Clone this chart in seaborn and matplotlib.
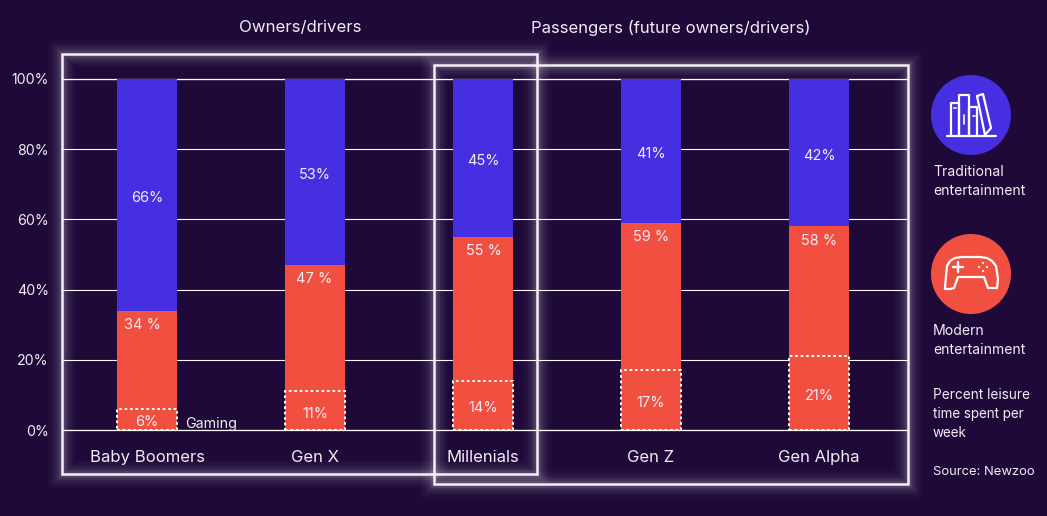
import numpy as np
import pandas as pd
import seaborn as sns
import matplotlib.pyplot as plt
from matplotlib.patches import Circle, Rectangle
from matplotlib.ticker import PercentFormatter

W, H = 1047, 516
BG = "#1e0938"
BLUE = "#452fe0"
RED = "#f15041"
TXT = "#f1ecf6"

# data
generations = ["Baby Boomers", "Gen X", "Millenials", "Gen Z", "Gen Alpha"]
traditional = [66, 53, 45, 41, 42]
modern = [34, 47, 55, 59, 58]
gaming = [6, 11, 14, 17, 21]
yticks = [0, 20, 40, 60, 80, 100]

sns.set_theme(style="white")
plt.rcParams["font.family"] = ["Inter", "DejaVu Sans"]

df = pd.DataFrame({"generation": generations, "traditional": traditional,
                   "modern": modern, "gaming": gaming})
df["total"] = df["traditional"] + df["modern"]

fig = plt.figure(figsize=(W / 100, H / 100), dpi=100, facecolor=BG)
# main axes placed by pixel: 0% at y=430, 100% at y=79, x from 62 to 908
ax = fig.add_axes([62 / W, 1 - 430 / H, (908 - 62) / W, (430 - 79) / H], facecolor=BG)

bw = 60 / 168
sns.barplot(data=df, x="generation", y="total", color=BLUE, width=bw, saturation=1, linewidth=0, ax=ax)
sns.barplot(data=df, x="generation", y="modern", color=RED, width=bw, saturation=1, linewidth=0, ax=ax)
sns.barplot(data=df, x="generation", y="gaming", fill=False, width=bw, ax=ax,
            edgecolor="white", linewidth=1.4, linestyle=(0, (1.4, 1.4)))

ax.set_xlim((62 - 147) / 168, (908 - 147) / 168)
ax.set_ylim(0, 100)
ax.set_xlabel("")
ax.set_ylabel("")
ax.set_yticks(yticks)
ax.yaxis.set_major_formatter(PercentFormatter(100, decimals=0))
ax.set_axisbelow(True)
ax.grid(axis="y", color="white", linewidth=0.8)
ax.grid(axis="x", visible=False)
sns.despine(ax=ax, left=True, bottom=True)
ax.tick_params(axis="y", length=0, pad=9.5, labelsize=10.2, labelcolor=TXT)
ax.tick_params(axis="x", length=0, pad=14.7, labelsize=12, labelcolor=TXT)
ax.axhline(0, color="white", linewidth=0.9, zorder=5, clip_on=False)
ax.axhline(100, color="white", linewidth=0.9, zorder=0.5, clip_on=False)

# value labels, the red ones sit a little off centre in the original
red_shift = [-0.03, -0.006, 0.006, 0, 0]
for i in range(len(generations)):
    m, t, g = modern[i], traditional[i], gaming[i]
    ax.text(i, m + t / 2 - 0.8, f"{t}%", ha="center", va="center", color=TXT, fontsize=10.5)
    ax.text(i + red_shift[i], m - 4.1, f"{m} %", ha="center", va="center", color=TXT, fontsize=10.5)
    ax.text(i, g / 2 - 0.8, f"{g}%", ha="center", va="center", color=TXT, fontsize=10.5)

# overlay in pixel coordinates for boxes, icons and side text
ov = fig.add_axes([0, 0, 1, 1], facecolor="none")
ov.set_xlim(0, W)
ov.set_ylim(H, 0)
ov.axis("off")


def glow_box(x0, y0, x1, y1):
    for lw, a in [(20, 0.02), (17, 0.025), (14, 0.03), (11, 0.035), (8, 0.05), (5, 0.09)]:
        ov.add_patch(Rectangle((x0, y0), x1 - x0, y1 - y0, fill=False, ec="white", lw=lw, alpha=a))
    ov.add_patch(Rectangle((x0, y0), x1 - x0, y1 - y0, fill=False, ec="#f4eff8", lw=1.8))


glow_box(62, 54, 537, 474)
glow_box(434, 65, 908, 484)


def line(xs, ys, lw=1.6):
    ov.plot(xs, ys, color="white", lw=lw, solid_capstyle="round", solid_joinstyle="round")


# books icon
ov.add_patch(Circle((971, 115), 40, color=BLUE, lw=0))
line([947, 996], [135.5, 135.5])
line([951, 951, 959, 959], [135, 103, 103, 135])
line([959, 959, 969, 969], [135, 95, 95, 135])
line([969, 969, 977, 977], [135, 107, 107, 135])
line([977, 983, 991, 985, 977], [96, 94, 128, 135, 96])
line([964, 964], [115, 124], 1.2)
line([954, 956], [108, 108], 1.2)
line([973, 975], [116, 116], 1.2)

# gamepad icon
ov.add_patch(Circle((971, 274), 40, color=RED, lw=0))
gx = [945, 947, 950, 955, 962, 971, 980, 987, 992, 996, 998, 997, 990, 988, 984, 958, 954, 950, 945, 945]
gy = [287, 266, 261, 258, 257, 257, 257, 258, 261, 266, 279, 288, 288, 288, 277, 277, 288, 289, 289, 287]
line(gx, gy)
line([953, 963], [267, 267], 1.7)
line([958, 958], [262, 272], 1.7)
for dx, dy in [(0, -4), (0, 4), (-4, 0), (4, 0)]:
    ov.add_patch(Circle((983 + dx, 267 + dy), 1.1, color="white", lw=0))

# text
ov.text(300, 27.5, "Owners/drivers", ha="center", va="center", color=TXT, fontsize=12.1)
ov.text(671, 27.5, "Passengers (future owners/drivers)", ha="center", va="center", color=TXT, fontsize=12)
ov.text(185, 424, "Gaming", ha="left", va="center", color=TXT, fontsize=10.3)
side = [("Traditional", 172, 10.1), ("entertainment", 191, 10.1), ("Modern", 331, 10.1), ("entertainment", 350, 10.1),
        ("Percent leisure", 395, 9.8), ("time spent per", 414, 9.7), ("week", 433, 9.7), ("Source: Newzoo", 472, 9.4)]
for s, y, fs in side:
    ov.text(933, y, s, ha="left", va="center", color=TXT, fontsize=fs)

fig.savefig("out.png", dpi=100, facecolor=BG)
